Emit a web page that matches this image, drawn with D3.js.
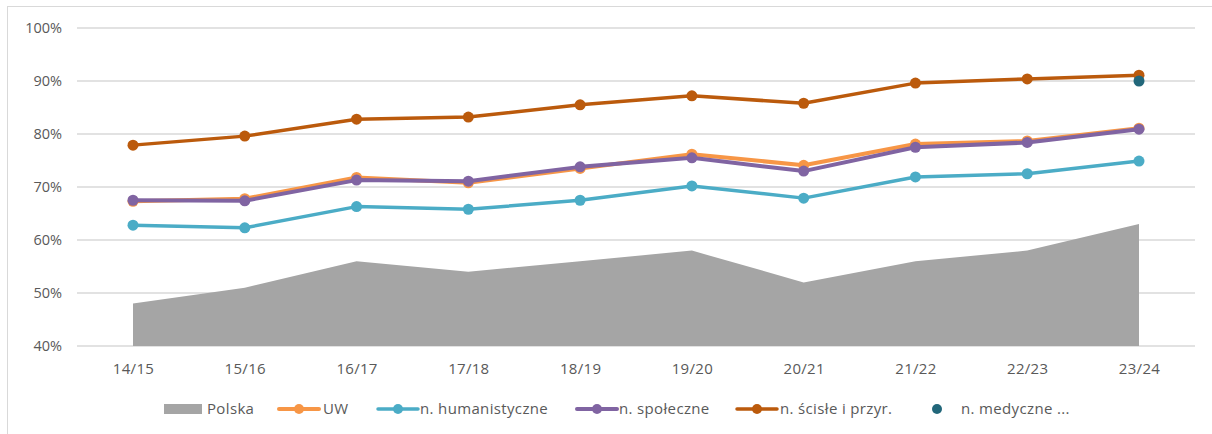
<!DOCTYPE html>
<html><head><meta charset="utf-8">
<script src="https://cdn.jsdelivr.net/npm/d3@7"></script>
<style>
body{margin:0;background:#fff;}
svg{display:block;font-family:"Open Sans","Liberation Sans",sans-serif;}
</style></head>
<body>
<svg id="chart" width="1212" height="434"></svg>
<script>
const categories = ["14/15","15/16","16/17","17/18","18/19","19/20","20/21","21/22","22/23","23/24"];
const yTicks = [40,50,60,70,80,90,100];
const polska = [48,51,56,54,56,58,52,56,58,63];
const uw = [67.3,67.8,71.8,70.8,73.5,76.2,74.1,78.1,78.7,81.1];
const humanistyczne = [62.8,62.3,66.3,65.8,67.5,70.2,67.9,71.9,72.5,74.9];
const spoleczne = [67.5,67.4,71.3,71.1,73.8,75.5,73.0,77.5,78.4,80.9];
const scisle = [77.9,79.6,82.8,83.2,85.5,87.2,85.8,89.6,90.4,91.1];
const medyczne = [null,null,null,null,null,null,null,null,null,90.0];

const svg = d3.select("#chart");
const textColor = "#595959";
const ff = "'Open Sans','Liberation Sans',sans-serif";

// outer border
svg.append("rect").attr("x",7.5).attr("y",6.5).attr("width",1220).attr("height",440)
  .attr("fill","none").attr("stroke","#d9d9d9").attr("stroke-width",1);

const x = d3.scalePoint().domain(categories).range([133,1139]);
const xLeft = 77, xRight = 1195;
const y = d3.scaleLinear().domain([40,100]).range([346,28]);

// gridlines
svg.append("g").selectAll("line").data(yTicks).join("line")
  .attr("x1",xLeft).attr("x2",xRight)
  .attr("y1",d=>y(d)).attr("y2",d=>y(d))
  .attr("stroke","#d9d9d9").attr("stroke-width",1.3);

// y axis labels
const yAxis = d3.axisLeft(y).tickValues(yTicks).tickFormat(d=>d+"%").tickSize(0).tickPadding(0);
const gy = svg.append("g").attr("transform","translate(62,0)").call(yAxis);
gy.select(".domain").remove();
gy.selectAll("text").attr("fill",textColor).style("font-size","14.5px").style("font-family",ff);

// area Polska
const area = d3.area().x((d,i)=>x(categories[i])).y0(y(40)).y1(d=>y(d));
svg.append("path").datum(polska).attr("d",area).attr("fill","#a5a5a5");

// x axis labels
const xAxis = d3.axisBottom(x).tickSize(0).tickPadding(0);
const gx = svg.append("g").attr("transform","translate(0,363)").call(xAxis);
gx.select(".domain").remove();
gx.selectAll("text").attr("fill",textColor).style("font-size","15px").style("font-family",ff).style("letter-spacing","0.3px");

const lineGen = d3.line().defined(d=>d!=null).x((d,i)=>x(categories[i])).y(d=>y(d));
const series = [
  {name:"UW", data:uw, color:"#f79646", w:4},
  {name:"n. humanistyczne", data:humanistyczne, color:"#4bacc6", w:3.5},
  {name:"n. społeczne", data:spoleczne, color:"#8064a2", w:4},
  {name:"n. ścisłe i przyr.", data:scisle, color:"#bb5a0c", w:3.5},
];
series.forEach(s=>{
  svg.append("path").datum(s.data).attr("d",lineGen).attr("fill","none")
    .attr("stroke",s.color).attr("stroke-width",s.w).attr("stroke-linejoin","round");
  svg.append("g").selectAll("circle").data(s.data.map((v,i)=>({v,i})).filter(d=>d.v!=null)).join("circle")
    .attr("cx",d=>x(categories[d.i])).attr("cy",d=>y(d.v)).attr("r",5.5).attr("fill",s.color);
});
// medyczne
svg.append("g").selectAll("circle").data(medyczne.map((v,i)=>({v,i})).filter(d=>d.v!=null)).join("circle")
  .attr("cx",d=>x(categories[d.i])).attr("cy",d=>y(d.v)).attr("r",5.5).attr("fill","#22677a");

// legend
const ly = 409;
const leg = svg.append("g").style("font-size","15px").style("letter-spacing","0.35px").attr("fill",textColor);
leg.append("rect").attr("x",164).attr("y",ly-5).attr("width",38).attr("height",10).attr("fill","#a5a5a5");
leg.append("text").attr("x",207).attr("y",ly+5).text("Polska");
const legLines = [
  {x1:279,x2:319,tx:323,s:series[0]},
  {x1:378,x2:418,tx:420,s:series[1]},
  {x1:577,x2:617,tx:619,s:series[2]},
  {x1:737,x2:777,tx:780,s:series[3]},
];
legLines.forEach(l=>{
  leg.append("line").attr("x1",l.x1).attr("x2",l.x2).attr("y1",ly).attr("y2",ly)
    .attr("stroke",l.s.color).attr("stroke-width",l.s.w).attr("stroke-linecap","round");
  leg.append("circle").attr("cx",(l.x1+l.x2)/2).attr("cy",ly).attr("r",5).attr("fill",l.s.color);
  leg.append("text").attr("x",l.tx).attr("y",ly+5).text(l.s.name);
});
leg.append("circle").attr("cx",937).attr("cy",ly).attr("r",5).attr("fill","#22677a");
leg.append("text").attr("x",961).attr("y",ly+5).text("n. medyczne ...");
</script>
</body></html>
